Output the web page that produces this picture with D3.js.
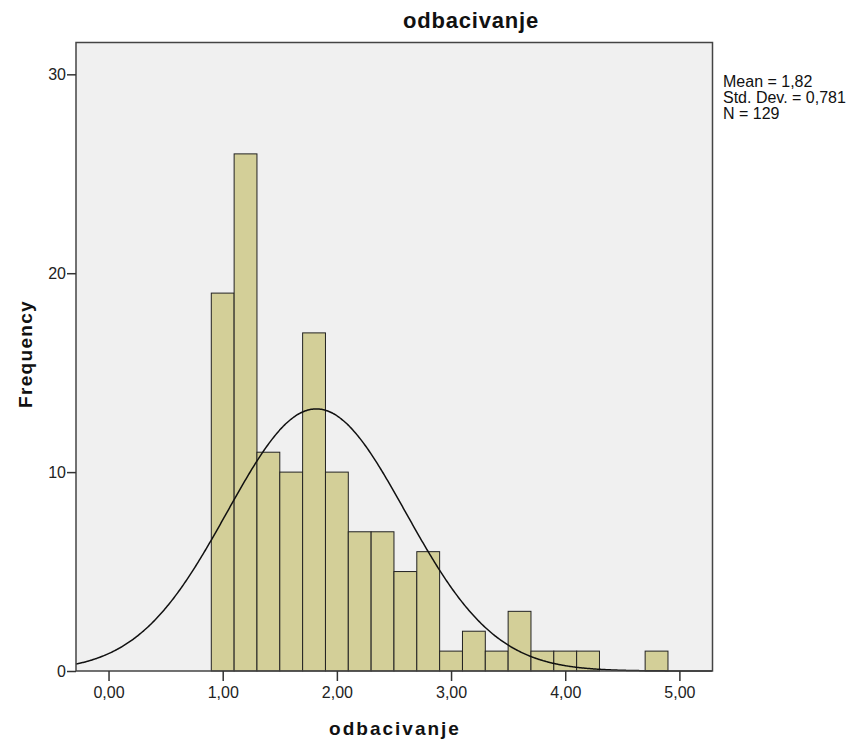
<!DOCTYPE html>
<html><head><meta charset="utf-8">
<script src="https://cdn.jsdelivr.net/npm/d3@7"></script>
<style>body{margin:0;background:#fff}svg{display:block}text{font-family:"Liberation Sans",Arial,sans-serif}</style>
</head><body><svg id="c" width="850" height="740"></svg>
<script>
const binStarts = [0.9,1.1,1.3,1.5,1.7,1.9,2.1,2.3,2.5,2.7,2.9,3.1,3.3,3.5,3.7,3.9,4.1,4.3,4.5,4.7];
const counts    = [19,26,11,10,17,10,7,7,5,6,1,2,1,3,1,1,1,0,0,1];
const binWidth = 0.2;
const xTicks = [0,1,2,3,4,5];
const yTicks = [0,10,20,30];
const statsLines = ["Mean = 1,82","Std. Dev. = 0,781","N = 129"];
const mean = 1.82, sd = 0.781, n = 129;

const svg = d3.select("#c");
const L=76, R=712.5, T=42.5, B=671;
const x = d3.scaleLinear().domain([-0.285,5.29]).range([L,R]);
const y = d3.scaleLinear().domain([0,31.6]).range([B,T]);

svg.append("rect").attr("x",L).attr("y",T).attr("width",R-L).attr("height",B-T).attr("fill","#f0f0f0");

// bars
svg.append("g").selectAll("rect").data(binStarts.map((s,i)=>({s,c:counts[i]})).filter(d=>d.c>0))
 .join("rect")
 .attr("x",d=>x(d.s)).attr("width",d=>x(d.s+binWidth)-x(d.s))
 .attr("y",d=>y(d.c)).attr("height",d=>y(0)-y(d.c))
 .attr("fill","#d3cf98").attr("stroke","#222").attr("stroke-width",1);

// normal curve
const pts = d3.range(-0.285,5.29,0.01).map(v=>[v, n*binWidth*Math.exp(-0.5*((v-mean)/sd)**2)/(sd*Math.sqrt(2*Math.PI))]);
svg.append("path").datum(pts).attr("fill","none").attr("stroke","#111").attr("stroke-width",1.5)
 .attr("d",d3.line().x(d=>x(d[0])).y(d=>y(d[1])).curve(d3.curveBasis));

// frame
svg.append("rect").attr("x",L).attr("y",T).attr("width",R-L).attr("height",B-T).attr("fill","none").attr("stroke","#444").attr("stroke-width",1.5);

// axes
const fmt = d=>d.toFixed(2).replace(".",",");
const xa = svg.append("g").attr("transform",`translate(0,${B})`)
 .call(d3.axisBottom(x).tickValues(xTicks).tickFormat(fmt).tickSize(10).tickSizeOuter(0));
xa.select(".domain").remove();
xa.selectAll("line").attr("stroke","#333").attr("stroke-width",1.5);
xa.selectAll("text").attr("font-size",16).attr("fill","#222").attr("dy","0.71em").attr("y",16);

const ya = svg.append("g").attr("transform",`translate(${L},0)`)
 .call(d3.axisLeft(y).tickValues(yTicks).tickFormat(d3.format("d")).tickSize(9).tickSizeOuter(0));
ya.select(".domain").remove();
ya.selectAll("line").attr("stroke","#333").attr("stroke-width",1.5);
ya.selectAll("text").attr("font-size",16).attr("fill","#222").attr("x",-10);

// title & labels
svg.append("text").attr("x",471).attr("y",28).attr("text-anchor","middle").attr("font-size",22).attr("letter-spacing",0.8).attr("font-weight","bold").attr("fill","#111").text("odbacivanje");
svg.append("text").attr("x",395).attr("y",735).attr("text-anchor","middle").attr("font-size",19).attr("letter-spacing",2).attr("font-weight","bold").attr("fill","#111").text("odbacivanje");
svg.append("text").attr("transform","translate(32,354) rotate(-90)").attr("text-anchor","middle").attr("font-size",19).attr("letter-spacing",1.3).attr("font-weight","bold").attr("fill","#111").text("Frequency");

svg.append("g").selectAll("text").data(statsLines).join("text")
 .attr("x",723).attr("y",(d,i)=>87+i*16).attr("font-size",16).attr("fill","#111").text(d=>d);
</script></body></html>
